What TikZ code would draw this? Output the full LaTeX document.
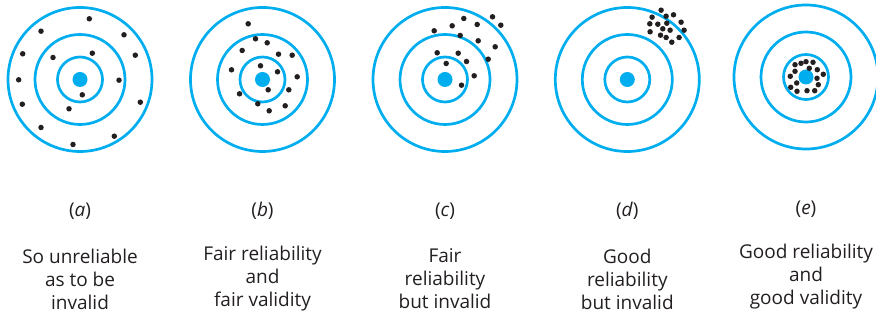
\documentclass[tikz,border=0pt]{standalone}
\usepackage{fontspec}
\setmainfont{Open Sans}
\definecolor{tcyan}{HTML}{00AEEF}
\definecolor{dotc}{HTML}{231F20}
\definecolor{txt}{HTML}{231F20}
\tikzset{
  ring/.style={draw=tcyan, line width=2.7pt},
  bull/.style={fill=tcyan},
  hit/.style={fill=dotc},
  tag/.style={text=txt, font=\fontsize{19}{23}\selectfont},
  caption/.style={text=txt, font=\fontsize{19}{23}\selectfont, align=center}
}
\newcommand{\target}[2]{%
  \begin{scope}[shift={(#1)}]
    \draw[ring] (0,0) circle (72);
    \draw[ring] (0,0) circle (45);
    \draw[ring] (0,0) circle (22.5);
    \fill[bull] (0,0) circle (7.5);
    \foreach \dx/\dy in {#2} { \fill[hit] (\dx,\dy) circle (2.75); }
  \end{scope}}
\begin{document}
\begin{tikzpicture}[x=1pt,y=1pt]
\useasboundingbox (0,0) rectangle (876,323);
% (a)
\target{80,243.5}{9.3/60.7, -39/48.3, 44/44.7, -57.3/25.7, 55.3/24.3, -27/22, 12.3/26.3, -61.3/-0.3, 39/-0.7, 2.3/-15.3, -57.7/-24.7, 60.3/-22.7, -11/-29.3, -39/-48, 34.3/-56.7, -7/-65}
% (b)
\target{262.5,243.5}{-14.3/55.7, -7/40.7, 4.7/36.7, -20.3/29, 16/25.3, 29.7/24.3, -31/9.7, -2/13.7, 15/7.7, 34.7/2.7, 5.7/-10.3, 26.3/-10.3, -23/-14.3, -4.7/-24.3, 22.7/-26.3, 6.7/-31.3}
% (c)
\target{445,243.5}{18.8/61, 47.5/62.7, 7.2/53.7, 32.2/55, 55.8/54.3, -10.8/48.7, 15.2/44, 33.2/38.7, 50.2/32.7, -7.8/26.7, 13.2/26.3, 43.2/20.3, 1.2/16, 21.5/18, 29.2/3.7, 16.5/-5.7}
% (d)
\target{627.3,243.5}{33.8/69.3, 24.8/62.3, 38.8/63.3, 46.2/64.7, 22.5/55.7, 30.5/55.3, 39.5/56.3, 53.8/57.3, 35.5/50.7, 42.8/49.3, 56.8/49.3, 22.8/47.7, 33.2/44.3, 38.8/42, 51.8/42, 44.5/37.3}
% (e)
\target{806,246}{-11/12.3, -5/13.7, 0/15.3, 7/14.7, 3.3/8.7, 11.3/7.3, -11/5.7, -15.7/0.7, 17.3/2.7, 11/-1.3, -9.3/-6, 12.3/-7.7, -15.3/-10.3, -9/-14.3, 1/-13.7, 8.7/-13.7}

\node[tag] (la) at (80,112) {(\textit{a})};
\node[tag] (lb) at (262.5,112) {(\textit{b})};
\node[tag] (lc) at (445,112) {(\textit{c})};
\node[tag] (ld) at (627.3,112) {(\textit{d})};
\node[tag] (le) at (806,114) {(\textit{e})};

\node[caption] (ca) at (80,44) {So unreliable\\as to be\\invalid};
\node[caption] (cb) at (262.5,44) {Fair reliability\\and\\fair validity};
\node[caption] (cc) at (445,44) {Fair\\reliability\\but invalid};
\node[caption] (cd) at (627.3,44) {Good\\reliability\\but invalid};
\node[caption] (ce) at (806,46) {Good reliability\\and\\good validity};
\end{tikzpicture}
\end{document}
